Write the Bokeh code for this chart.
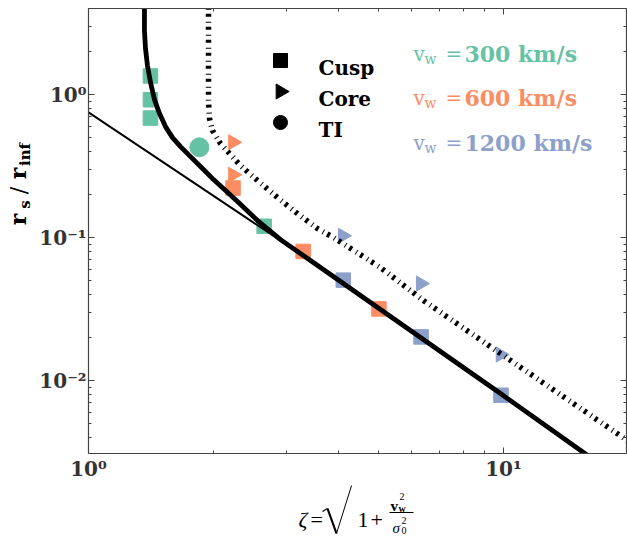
import math
from bokeh.plotting import figure
from bokeh.layouts import column, row
from bokeh.models import (FixedTicker, CustomJSTickFormatter, LogAxis, Label, Arrow, Range1d)
from bokeh.embed import file_html
from bokeh.resources import INLINE

# ---------------- data ----------------
GREEN, ORANGE, BLUE = "#66c2a5", "#fc8d62", "#8da0cb"

# Cusp simulations (squares)
cusp_green_x = [1.41, 1.41, 1.41, 2.65]
cusp_green_y = [1.35, 0.92, 0.685, 0.120]
cusp_orange_x = [2.23, 3.29, 5.01]
cusp_orange_y = [0.222, 0.080, 0.0317]
cusp_blue_x = [4.11, 6.33, 9.86]
cusp_blue_y = [0.0504, 0.0202, 0.0079]
# Core simulations (right-pointing triangles)
core_orange_x = [2.23, 2.23]
core_orange_y = [0.464, 0.275]
core_blue_x = [4.10, 6.32, 9.84]
core_blue_y = [0.103, 0.0477, 0.0152]
# TI simulation (circle)
ti_green_x = [1.85]
ti_green_y = [0.428]

# thick solid model curve (cusp)
cusp_model_x = [1.364, 1.364, 1.372, 1.387, 1.411, 1.442, 1.483, 1.533, 1.594, 1.666, 1.761,
                1.893, 2.001, 2.139, 2.286, 2.555, 2.902, 3.427, 5.647, 9.835, 17.13]
cusp_model_y = [4.54, 2.803, 2.097, 1.595, 1.213, 0.923, 0.7364, 0.5973, 0.5003, 0.4329, 0.3685,
                0.299, 0.2544, 0.2131, 0.1786, 0.1315, 0.0968, 0.0691, 0.02504, 0.00811, 0.002585]
# dash-dot model curve (core)
core_model_x = [1.946, 1.946, 1.946, 1.957, 1.990, 2.080, 2.199, 2.324, 2.555, 2.854,
                3.189, 3.563, 3.895, 5.053, 6.416, 9.835, 19.89]
core_model_y = [4.54, 1.729, 0.908, 0.680, 0.560, 0.454, 0.3806, 0.3189, 0.2504, 0.1905,
                0.1472, 0.1156, 0.100, 0.0617, 0.03626, 0.01545, 0.003806]
# thin asymptotic power law
asym_x = [1.0, 3.43]
asym_y = [0.75, 0.069]

legend_labels = ["Cusp", "Core", "TI"]
speeds = ["300", "600", "1200"]
speed_colors = [GREEN, ORANGE, BLUE]

x_major = [1, 10]
x_minor = [2, 3, 4, 5, 6, 7, 8, 9, 20]
y_major = [0.01, 0.1, 1]
y_minor = [0.004, 0.005, 0.006, 0.007, 0.008, 0.009,
           0.02, 0.03, 0.04, 0.05, 0.06, 0.07, 0.08, 0.09,
           0.2, 0.3, 0.4, 0.5, 0.6, 0.7, 0.8, 0.9, 2, 3, 4]

# ---------------- page geometry ----------------
PAGE_W, PAGE_H = 627, 538
FL, FR, FT, FB = 88, 626, 8, 453          # plot frame in page pixels
YLAB_W = 34                                # strip for the y label
MAIN_H = 485                               # main figure height (x label strip below)
XMIN, XMAX = 1.0, 10 ** ((FR - FL) / 415.0)
YMIN, YMAX = 0.00309, 4.0

AX = "#444444"
LAB = "#333333"
SERIF = "DejaVu Serif"
MATH = "Liberation Serif"

p = figure(width=PAGE_W - YLAB_W, height=MAIN_H, x_axis_type="log", y_axis_type="log",
           x_range=Range1d(XMIN, XMAX), y_range=Range1d(YMIN, YMAX),
           output_backend="svg", toolbar_location=None,
           min_border_left=FL - YLAB_W, min_border_right=PAGE_W - FR,
           min_border_top=FT, min_border_bottom=MAIN_H - FB)
p.grid.visible = False
p.outline_line_color = None

fmt_code = """
const e = Math.round(Math.log10(tick));
const m = {"0":"\\u2070","1":"\\u00b9","2":"\\u00b2","3":"\\u00b3","-":"\\u207b"};
return "10" + String(e).split("").map(c => m[c]).join("");
"""


def style_axis(ax, major, minor, labels):
    ax.ticker = FixedTicker(ticks=major, minor_ticks=minor)
    ax.axis_line_color = AX
    ax.axis_line_width = 1.2
    ax.major_tick_line_color = AX
    ax.minor_tick_line_color = AX
    ax.major_tick_in = 6
    ax.major_tick_out = 0
    ax.minor_tick_in = 3
    ax.minor_tick_out = 0
    if labels:
        ax.formatter = CustomJSTickFormatter(code=fmt_code)
        ax.major_label_text_font = SERIF
        ax.major_label_text_font_style = "bold"
        ax.major_label_text_font_size = "20px"
        ax.major_label_text_color = LAB
    else:
        ax.formatter = CustomJSTickFormatter(code="return '';")
        ax.major_label_text_font_size = "1px"
        ax.major_label_standoff = 0


style_axis(p.xaxis[0], x_major, x_minor, True)
p.xaxis[0].major_label_standoff = 3
style_axis(p.yaxis[0], y_major, y_minor, True)
p.yaxis[0].major_label_standoff = 2

top = LogAxis()
style_axis(top, x_major, x_minor, False)
p.add_layout(top, "above")
right = LogAxis()
style_axis(right, y_major, y_minor, False)
p.add_layout(right, "right")

# ---------------- markers ----------------
TRI = -math.pi / 2
p.scatter(core_orange_x, core_orange_y, marker="triangle", size=15, angle=TRI,
          fill_color=ORANGE, line_color=ORANGE)
p.scatter(core_blue_x, core_blue_y, marker="triangle", size=15, angle=TRI,
          fill_color=BLUE, line_color=BLUE)
p.scatter(cusp_green_x, cusp_green_y, marker="square", size=14.5,
          fill_color=GREEN, line_color=GREEN)
p.scatter(cusp_orange_x, cusp_orange_y, marker="square", size=14.5,
          fill_color=ORANGE, line_color=ORANGE)
p.scatter(cusp_blue_x, cusp_blue_y, marker="square", size=14.5,
          fill_color=BLUE, line_color=BLUE)
p.scatter(ti_green_x, ti_green_y, marker="circle", size=19,
          fill_color=GREEN, line_color=GREEN)

# ---------------- lines ----------------
p.line(asym_x, asym_y, line_color="black", line_width=2)
p.line(cusp_model_x, cusp_model_y, line_color="black", line_width=4.8)
p.line(core_model_x, core_model_y, line_color="black", line_width=5.5, line_dash="3 5 1 4")


# ---------------- helpers for page-positioned decorations ----------------
def lab(fig, ox, oyb, text, X, Y, size, font=SERIF, style="normal", color="black",
        angle=0.0, align="left", baseline="alphabetic"):
    fig.add_layout(Label(x=X - ox, y=oyb - Y, x_units="screen", y_units="screen",
                         text=text, text_font=font, text_font_style=style,
                         text_font_size=f"{size}px", text_color=color,
                         text_align=align, text_baseline=baseline, angle=angle))


def seg(fig, ox, oyb, X0, Y0, X1, Y1, w):
    fig.add_layout(Arrow(end=None, x_start=X0 - ox, y_start=oyb - Y0,
                         x_end=X1 - ox, y_end=oyb - Y1,
                         start_units="screen", end_units="screen",
                         line_color="black", line_width=w))


def to_data(X, Y):
    lx0, lx1 = math.log10(XMIN), math.log10(XMAX)
    ly0, ly1 = math.log10(YMIN), math.log10(YMAX)
    return (10 ** (lx0 + (X - FL) / (FR - FL) * (lx1 - lx0)),
            10 ** (ly1 - (Y - FT) / (FB - FT) * (ly1 - ly0)))


# ---------------- black marker legend (key glyphs placed in axes space) ----------------
key_markers = [("square", 14, 0.0), ("triangle", 15, TRI), ("circle", 14, 0.0)]
for i, (name, (mk, sz, ang)) in enumerate(zip(legend_labels, key_markers)):
    Yc = 60 + 31 * i
    kx, ky = to_data(280, Yc)
    p.scatter([kx], [ky], marker=mk, size=sz, angle=ang, color="black")
    lab(p, FL, FB, name, 318, Yc + 7, 20, style="bold")

# ---------------- speed annotations ----------------
for i, (spd, col) in enumerate(zip(speeds, speed_colors)):
    B = 53 + 44.5 * i
    lab(p, FL, FB, "v", 413, B, 20, color=col)
    lab(p, FL, FB, "w", 424, B + 5, 14, color=col)
    lab(p, FL, FB, "=", 445, B, 20, color=col)
    lab(p, FL, FB, spd + " km/s", 464, B, 22, style="bold", color=col)


def strip(w, h):
    f = figure(width=w, height=h, x_range=Range1d(0, 1), y_range=Range1d(0, 1),
               output_backend="svg", toolbar_location=None,
               x_axis_location=None, y_axis_location=None, min_border=0)
    f.grid.visible = False
    f.outline_line_color = None
    return f


# ---------------- y label strip:  r_s / r_inf  (pieces centred, rotated) ----------------
ys = strip(YLAB_W, MAIN_H)
R = math.pi / 2
for txt, X, Y, sz, st in [("r", 17.5, 251, 22, "bold"),
                          ("s", 24.5, 236, 15, "bold"),
                          ("/", 17.5, 222, 22, "normal"),
                          ("r", 17.5, 205, 22, "bold"),
                          ("inf", 24.5, 186, 15, "bold")]:
    lab(ys, 0, MAIN_H, txt, X, Y, sz, style=st, angle=R, align="center", baseline="middle")

# ---------------- x label strip:  zeta = sqrt(1 + v_w^2 / sigma_0^2) ----------------
xs = strip(PAGE_W, PAGE_H - MAIN_H)
OX, OB = 0, PAGE_H + 5          # drawn 5 px higher than the reference so nothing is cut
lab(xs, OX, OB, "\u03b6", 298, 524, 22, font=MATH, style="italic")
lab(xs, OX, OB, "=", 310, 524, 22, font=MATH)
seg(xs, OX, OB, 322, 516, 327, 513, 1.2)
seg(xs, OX, OB, 327, 513, 336, 538, 2.2)
seg(xs, OX, OB, 336, 538, 352, 487, 1.0)
seg(xs, OX, OB, 352, 487, 418, 487, 1.0)
lab(xs, OX, OB, "1", 357, 524, 22, font=MATH)
lab(xs, OX, OB, "+", 370, 524, 22, font=MATH)
lab(xs, OX, OB, "v", 390, 510, 15, font=MATH, style="bold")
lab(xs, OX, OB, "w", 398, 513, 10, font=MATH, style="bold")
lab(xs, OX, OB, "2", 399, 501, 10, font=MATH)
seg(xs, OX, OB, 389, 517, 413, 517, 1.0)
lab(xs, OX, OB, "\u03c3", 392, 532, 15, font=MATH, style="italic")
lab(xs, OX, OB, "2", 401, 525, 10, font=MATH)
lab(xs, OX, OB, "0", 401, 535, 10, font=MATH)

layout = column(row(ys, p, spacing=0), xs, spacing=0)
open("out.html", "w").write(file_html(layout, INLINE))
